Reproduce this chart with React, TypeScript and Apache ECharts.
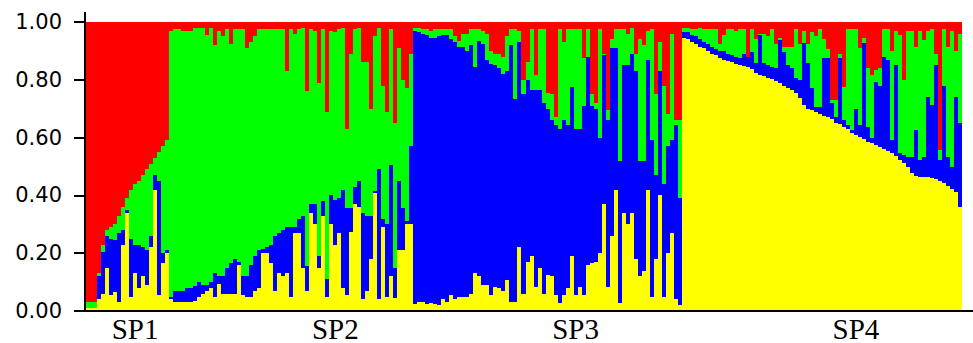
import React, { useEffect, useRef } from "react";
import * as echarts from "echarts";

// Cluster colours (bottom to top in each bar)
const clusterNames = ["Cluster 1", "Cluster 2", "Cluster 3", "Cluster 4"];
const clusterColors = ["#FFFF00", "#0000FF", "#00FF00", "#FF0000"];

// Population labels and the individual under which each label sits
const groupLabels = ["SP1", "SP2", "SP3", "SP4"];
const groupLabelIndex = [12, 62, 122, 192];

// Y axis
const yTickStep = 0.2;

// Cumulative membership boundaries per individual:
// top of yellow, top of blue, top of green (red fills the rest up to 1)
const sp1YellowTop = [.01, .01, .01, .04, .06, .15, .055, .067, .03, .23, .34, .05, .13, .08, .12, .09, .22, .42, .055, .165, .20];
const sp1BlueTop = [.01, .01, .01, .12, .205, .26, .25, .245, .27, .28, .35, .25, .23, .23, .22, .21, .26, .47, .45, .20, .21];
const sp1GreenTop = [.03, .03, .03, .13, .23, .28, .29, .30, .33, .36, .39, .42, .44, .45, .47, .49, .51, .53, .55, .57, .59];

const sp2YellowTop = [.04, .03, .03, .03, .03, .03, .035, .05, .06, .07, .08, .05, .095, .06, .06, .06, .06, .16, .055, .05, .05, .07, .08, .20, .20, .165, .07, .13, .12, .13, .05, .27, .27, .15, .07, .34, .30, .15, .33, .05, .30, .23, .27, .08, .055, .275, .37, .36, .04, .07, .18, .41, .04, .29, .05, .12, .045, .21, .21, .30, .30];
const sp2BlueTop = [.05, .07, .07, .07, .08, .08, .085, .10, .09, .09, .10, .13, .12, .12, .15, .165, .18, .17, .12, .12, .16, .19, .21, .215, .22, .23, .26, .27, .28, .29, .29, .29, .32, .33, .155, .37, .37, .19, .38, .11, .40, .385, .39, .42, .355, .355, .43, .45, .34, .33, .33, .415, .49, .32, .30, .505, .15, .45, .355, .31, .57];
const sp2GreenTop = [.97, .975, .975, .97, .97, .97, .98, .98, .98, .955, .98, .92, .97, .95, .975, .925, .975, .975, .975, .91, .93, .95, .975, .975, .975, .975, .975, .975, .975, .83, .975, .96, .975, .98, .76, .975, .97, .79, .975, .69, .97, .965, .975, .98, .63, .89, .975, .98, .86, .86, .70, .95, .98, .78, .69, .975, .65, .91, .80, .77, .89];

const sp3YellowTop = [.025, .03, .03, .025, .028, .025, .02, .04, .03, .055, .04, .05, .05, .05, .06, .13, .12, .09, .09, .055, .084, .08, .07, .107, .03, .03, .22, .06, .17, .19, .084, .15, .06, .125, .12, .055, .027, .055, .078, .19, .055, .084, .055, .16, .165, .17, .20, .37, .084, .26, .42, .027, .34, .30, .34, .18, .12, .14, .42, .05, .18, .40, .05, .20, .27, .04, .02];
const sp3BlueTop = [.97, .965, .96, .955, .945, .945, .95, .955, .955, .94, .93, .915, .915, .90, .92, .845, .935, .925, .87, .855, .85, .84, .82, .83, .92, .735, .93, .75, .80, .765, .765, .765, .72, .70, .66, .645, .63, .66, .645, .775, .63, .63, .71, .88, .71, .70, .60, .885, .66, .91, .91, .52, .85, .85, .89, .83, .52, .52, .87, .59, .47, .83, .44, .57, .59, .645, .39];
const sp3GreenTop = [.98, .98, .975, .975, .97, .975, .975, .975, .975, .975, .95, .935, .96, .96, .975, .975, .975, .97, .96, .90, .89, .89, .88, .95, .975, .975, .97, .80, .86, .975, .817, .975, .975, .753, .75, .67, .975, .93, .975, .975, .975, .975, .875, .975, .75, .72, .975, .89, .695, .94, .975, .975, .975, .96, .98, .89, .94, .92, .97, .975, .75, .93, .78, .68, .96, .66, .66];

const sp4YellowTop = [.945, .94, .93, .925, .915, .91, .90, .89, .885, .875, .87, .865, .86, .855, .85, .848, .843, .836, .825, .817, .813, .807, .803, .797, .79, .778, .77, .765, .753, .736, .713, .70, .695, .69, .68, .675, .67, .663, .652, .647, .638, .63, .617, .609, .603, .594, .586, .58, .574, .569, .56, .555, .546, .536, .522, .513, .50, .479, .467, .465, .465, .463, .459, .457, .45, .444, .433, .421, .413, .36];
const sp4BlueTop = [.967, .965, .955, .95, .94, .93, .925, .915, .905, .90, .90, .89, .885, .88, .875, .89, .88, .897, .857, .955, .857, .85, .845, .84, .938, .897, .85, .84, .805, .80, .926, .857, .77, .707, .707, .874, .874, .72, .672, .874, .66, .645, .626, .70, .644, .926, .638, .60, .794, .78, .88, .868, .592, .85, .546, .54, .534, .534, .626, .522, .534, .74, .713, .85, .522, .78, .534, .50, .74, .65];
const sp4GreenTop = [.98, .98, .975, .975, .98, .975, .975, .975, .975, .925, .955, .975, .975, .97, .975, .975, .88, .975, .94, .96, .96, .95, .975, .925, .945, .915, .915, .915, .975, .925, .97, .925, .965, .95, .975, .94, .905, .73, .73, .89, .776, .975, .975, .975, .91, .943, .84, .817, .834, .84, .975, .975, .90, .97, .955, .80, .97, .97, .915, .97, .938, .97, .975, .89, .557, .975, .915, .97, .90, .96];

const yellowTop = [...sp1YellowTop, ...sp2YellowTop, ...sp3YellowTop, ...sp4YellowTop];
const blueTop = [...sp1BlueTop, ...sp2BlueTop, ...sp3BlueTop, ...sp4BlueTop];
const greenTop = [...sp1GreenTop, ...sp2GreenTop, ...sp3GreenTop, ...sp4GreenTop];

export default function App() {
  const ref = useRef<HTMLDivElement>(null);

  useEffect(() => {
    document.body.style.margin = "0";
    if (!ref.current) return;
    const chart = echarts.init(ref.current, undefined, { renderer: "svg" });

    const cats = yellowTop.map((_, i) => String(i));
    const r = (v: number) => Math.max(0, Math.round(v * 1000) / 1000);
    const parts = [
      yellowTop.map((y) => r(y)),
      yellowTop.map((y, i) => r(blueTop[i] - y)),
      blueTop.map((b, i) => r(greenTop[i] - b)),
      greenTop.map((g) => r(1 - g)),
    ];

    chart.setOption({
      animation: false,
      grid: { left: 85, right: 11, top: 22, bottom: 32, containLabel: false },
      xAxis: {
        type: "category",
        data: cats,
        boundaryGap: true,
        axisLine: { show: false },
        axisTick: { show: false },
        axisLabel: {
          interval: (i: number) => groupLabelIndex.includes(i),
          formatter: (_v: string, i: number) => groupLabels[groupLabelIndex.indexOf(i)] ?? "",
          fontFamily: "Liberation Serif, Times New Roman, serif",
          fontSize: 29,
          color: "#000",
          margin: 3,
        },
      },
      yAxis: {
        type: "value",
        min: 0,
        max: 1,
        interval: yTickStep,
        axisLine: { show: false },
        axisTick: { show: true, length: 11, lineStyle: { color: "#000", width: 1.5 } },
        splitLine: { show: false },
        axisLabel: {
          formatter: (v: number) => v.toFixed(2),
          fontFamily: "DejaVu Sans, sans-serif",
          fontSize: 21,
          color: "#000",
          margin: 23,
        },
      },
      series: parts.map((d, k) => ({
        name: clusterNames[k],
        type: "bar",
        stack: "q",
        data: d,
        barCategoryGap: "0%",
        itemStyle: { color: clusterColors[k] },
        emphasis: { disabled: true },
      })),
      graphic: [
        { type: "line", shape: { x1: 85, y1: 12, x2: 85, y2: 311 }, style: { stroke: "#000", lineWidth: 1.5 }, z: 10 },
        { type: "line", shape: { x1: 85, y1: 311, x2: 973, y2: 311 }, style: { stroke: "#000", lineWidth: 1.5 }, z: 10 },
      ],
    });
    return () => chart.dispose();
  }, []);

  return (
    <>
      <style>{"#structure-chart svg path { shape-rendering: crispEdges; }"}</style>
      <div id="structure-chart" ref={ref} style={{ width: 973, height: 343 }} />
    </>
  );
}
